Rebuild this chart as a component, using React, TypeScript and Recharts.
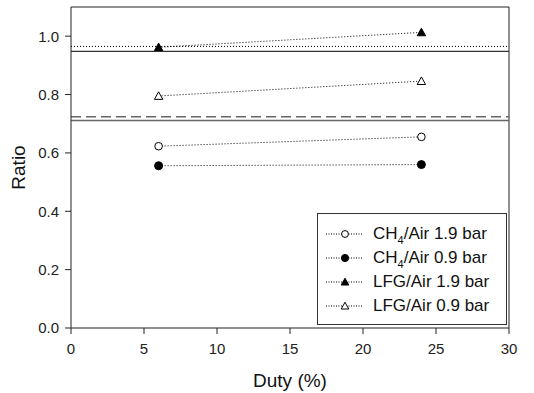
import React from 'react';
import { LineChart, Line, XAxis, YAxis, ReferenceLine } from 'recharts';

const duty = [6, 24];
const ch4High = [0.623, 0.655];
const ch4Low = [0.556, 0.56];
const lfgHigh = [0.962, 1.013];
const lfgLow = [0.795, 0.846];
const xTicks = [0, 5, 10, 15, 20, 25, 30];
const yTicks = [0, 0.2, 0.4, 0.6, 0.8, 1.0];
const refDotted = 0.965;
const refSolidTop = 0.948;
const refDashed = 0.724;
const refSolidLow = 0.711;

const data = duty.map((d, i) => ({
  duty: d,
  ch4High: ch4High[i],
  ch4Low: ch4Low[i],
  lfgHigh: lfgHigh[i],
  lfgLow: lfgLow[i],
}));

const FONT = 'Arial, "Liberation Sans", sans-serif';

const Marker = ({ cx, cy, kind, scale = 1 }: any) => {
  if (cx == null || cy == null) return null;
  if (kind === 'circleOpen') return <circle cx={cx} cy={cy} r={3.8 * scale} fill="#fff" stroke="#000" strokeWidth={1} />;
  if (kind === 'circleFill') return <circle cx={cx} cy={cy} r={4 * scale} fill="#000" stroke="#000" strokeWidth={1} />;
  const s = 4.2 * scale;
  const pts = `${cx},${cy - s} ${cx - s},${cy + s * 0.8} ${cx + s},${cy + s * 0.8}`;
  if (kind === 'triFill') return <polygon points={pts} fill="#000" stroke="#000" strokeWidth={1} />;
  return <polygon points={pts} fill="#fff" stroke="#000" strokeWidth={1} />;
};

const series = [
  { key: 'ch4High', kind: 'circleOpen', label: ['CH', '4', '/Air 1.9 bar'] },
  { key: 'ch4Low', kind: 'circleFill', label: ['CH', '4', '/Air 0.9 bar'] },
  { key: 'lfgHigh', kind: 'triFill', label: ['LFG/Air 1.9 bar', '', ''] },
  { key: 'lfgLow', kind: 'triOpen', label: ['LFG/Air 0.9 bar', '', ''] },
];

const LegendBox = () => (
  <div
    style={{
      position: 'absolute',
      left: 317,
      top: 213,
      width: 190,
      height: 112,
      border: '1px solid #333',
      background: '#fff',
      boxSizing: 'border-box',
      fontFamily: FONT,
      fontSize: 17,
      color: '#111',
      paddingTop: 8,
    }}
  >
    {series.map((s) => (
      <div key={s.key} style={{ display: 'flex', alignItems: 'center', height: 24 }}>
        <svg width={42} height={14} style={{ marginLeft: 6, flex: 'none' }}>
          <line x1={2} y1={7} x2={39} y2={7} stroke="#000" strokeWidth={1} strokeDasharray="1 1.5" />
          <Marker cx={21} cy={7} kind={s.kind} scale={0.9} />
        </svg>
        <span style={{ marginLeft: 7, whiteSpace: 'nowrap', lineHeight: '20px' }}>
          {s.label[0]}
          {s.label[1] ? <sub style={{ fontSize: 11, verticalAlign: -5, lineHeight: 0 }}>{s.label[1]}</sub> : null}
          {s.label[2]}
        </span>
      </div>
    ))}
  </div>
);

export default function App() {
  return (
    <div style={{ position: 'absolute', left: 0, top: 0, width: 534, height: 393, background: '#fff' }}>
      <LineChart width={534} height={393} data={data} margin={{ top: 7, right: 25, left: 0, bottom: 0 }}>
        <XAxis
          dataKey="duty"
          type="number"
          domain={[0, 30]}
          ticks={xTicks}
          tickSize={6}
          tickMargin={9}
          height={65}
          stroke="#222"
          tick={{ fill: '#222', fontSize: 15, fontFamily: FONT }}
          label={{ value: 'Duty (%)', position: 'insideBottom', offset: 6, fill: '#111', fontSize: 19, fontFamily: FONT }}
        />
        <YAxis
          type="number"
          domain={[0, 1.1]}
          ticks={yTicks}
          tickFormatter={(v: number) => v.toFixed(1)}
          tickSize={6}
          tickMargin={6}
          width={71}
          stroke="#222"
          tick={{ fill: '#222', fontSize: 15, fontFamily: FONT }}
          label={{ value: 'Ratio', angle: -90, position: 'insideLeft', offset: 18, fill: '#111', fontSize: 19, fontFamily: FONT, style: { textAnchor: 'middle' } }}
        />
        <ReferenceLine y={1.1} stroke="#222" strokeWidth={1} />
        <ReferenceLine x={30} stroke="#222" strokeWidth={1} />
        <ReferenceLine y={refDotted} stroke="#000" strokeWidth={1} strokeDasharray="1 2" />
        <ReferenceLine y={refSolidTop} stroke="#333" strokeWidth={1.2} />
        <ReferenceLine y={refDashed} stroke="#666" strokeWidth={1.5} strokeDasharray="10 5" />
        <ReferenceLine y={refSolidLow} stroke="#666" strokeWidth={1.5} />
        {series.map((s) => (
          <Line
            key={s.key}
            dataKey={s.key}
            stroke="#000"
            strokeWidth={1}
            strokeDasharray="1 2"
            isAnimationActive={false}
            dot={(p: any) => <Marker key={`${s.key}-${p.index}`} cx={p.cx} cy={p.cy} kind={s.kind} />}
            activeDot={false}
          />
        ))}
      </LineChart>
      <LegendBox />
    </div>
  );
}
